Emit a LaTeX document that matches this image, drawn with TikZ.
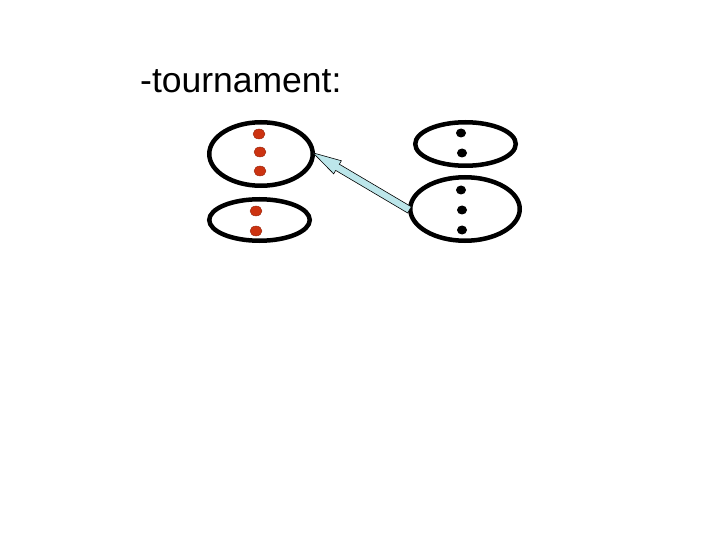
\documentclass[tikz,border=0pt]{standalone}
\usepackage{fontspec}
\setmainfont{Liberation Sans}
\usetikzlibrary{shapes.geometric,shapes.arrows}
\definecolor{dotRed}{HTML}{CC3311}
\definecolor{arrowCyan}{HTML}{BCE6EA}
\tikzset{
    group/.style={draw=black, line width=4.5pt, ellipse, inner sep=0pt},
    reddot/.style={ellipse, draw=dotRed!70!black, line width=0.4pt, fill=dotRed, inner sep=0pt, minimum width=12pt, minimum height=10pt},
    blackdot/.style={ellipse, fill=black, inner sep=0pt, minimum width=10pt, minimum height=9pt},
    fatarrow/.style={single arrow, draw=black, line width=0.6pt, fill=arrowCyan, inner xsep=0pt, inner ysep=3.3pt, minimum width=15pt, single arrow head extend=4pt, single arrow tip angle=30, minimum height=112pt}
}
\begin{document}
\begin{tikzpicture}[x=1pt, y=-1pt]
    \useasboundingbox (0,0) rectangle (720,540);
    \node[anchor=base west, inner sep=0pt, font=\fontsize{35.5}{42}\selectfont] (title) at (140,93) {-tournament:};
    % left side
    \node[group, minimum width=103.5pt, minimum height=63.5pt] (A1) at (261,154) {};
    \node[group, minimum width=100.5pt, minimum height=41.5pt] (A2) at (259.5,220) {};
    \node[reddot] (a1) at (259,134) {};
    \node[reddot] (a2) at (260,152) {};
    \node[reddot] (a3) at (260,171) {};
    \node[reddot] (a4) at (256,211) {};
    \node[reddot] (a5) at (256,231) {};
    % right side
    \node[group, minimum width=100.5pt, minimum height=43.5pt] (B1) at (465.5,144) {};
    \node[group, minimum width=109.5pt, minimum height=63.5pt] (B2) at (465,209) {};
    \node[blackdot] (b1) at (461,133) {};
    \node[blackdot] (b2) at (462,153) {};
    \node[blackdot] (b3) at (461,190) {};
    \node[blackdot] (b4) at (462,210) {};
    \node[blackdot] (b5) at (462,230) {};
    % the arrow
    \path (B2.west) -- (A1.east) node[pos=0.44, sloped, allow upside down, fatarrow] (arr) {};
\end{tikzpicture}
\end{document}
